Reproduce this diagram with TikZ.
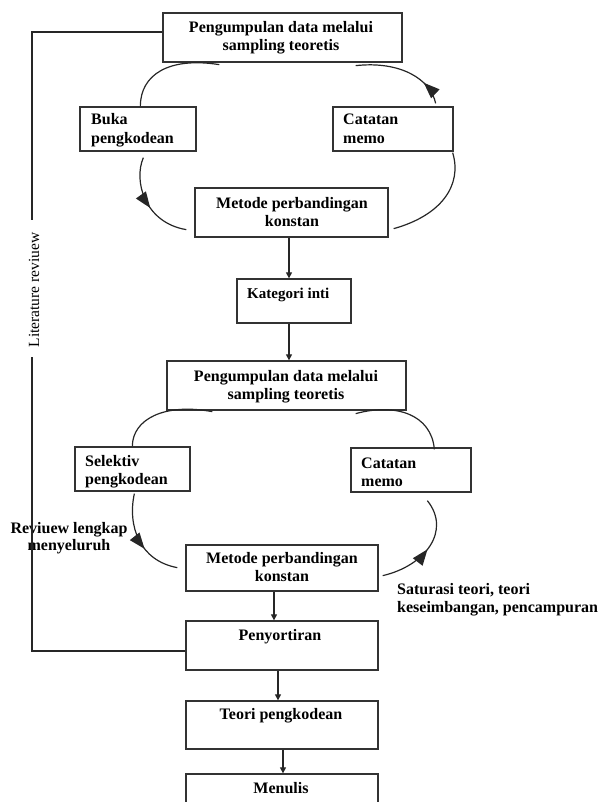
\documentclass[tikz,border=0pt]{standalone}
\usepackage{fontspec}
\setmainfont{Liberation Serif}
\usetikzlibrary{arrows.meta,decorations.markings}
\begin{document}
\begin{tikzpicture}[x=1pt,y=-1pt,
  box/.style={draw=black!80, line width=1.3pt, inner sep=0pt, rectangle},
  lbl/.style={inner sep=0pt, font=\fontsize{16}{17.5}\selectfont\bfseries},
  link/.style={draw=black!85, line width=1.2pt},
  tip/.style={link, -{Triangle[length=6pt,width=6pt]}},
  midarrow/.style={postaction={decorate}, decoration={markings,
      mark=at position #1 with {\arrow{Triangle[length=16pt,width=12pt]}}}},
]
\useasboundingbox (0,0) rectangle (598,802);

% ---- boxes ----
\node[box, minimum width=239pt, minimum height=49pt] (b1) at (282.5,37.5) {};
\node[box, minimum width=116pt, minimum height=44pt] (buka) at (138,129) {};
\node[box, minimum width=120pt, minimum height=44pt] (memo1) at (393,129) {};
\node[box, minimum width=193pt, minimum height=49pt] (m1) at (291.5,212.5) {};
\node[box, minimum width=114pt, minimum height=44pt] (kat) at (294,301) {};
\node[box, minimum width=239pt, minimum height=49pt] (b2) at (286.5,385.5) {};
\node[box, minimum width=115pt, minimum height=44pt] (sel) at (132.5,469) {};
\node[box, minimum width=120pt, minimum height=44pt] (memo2) at (411,470) {};
\node[box, minimum width=192pt, minimum height=46pt] (m2) at (282,568) {};
\node[box, minimum width=192pt, minimum height=49pt] (pen) at (282,645.5) {};
\node[box, minimum width=192pt, minimum height=48pt] (teori) at (282,725) {};
\node[box, minimum width=192pt, minimum height=49pt] (tulis) at (282,798.5) {};

% ---- box texts ----
\node[lbl, align=center, anchor=north] (b1t) at (281,21.5) {Pengumpulan data melalui\\sampling teoretis};
\node[lbl, align=left, anchor=north west, font=\fontsize{16}{19}\selectfont\bfseries] (bukat) at (91,113.5) {Buka\\pengkodean};
\node[lbl, align=left, anchor=north west, font=\fontsize{16}{19}\selectfont\bfseries] (memo1t) at (343,113.5) {Catatan\\memo};
\node[lbl, align=center, anchor=north] (m1t) at (292,197.5) {Metode perbandingan\\konstan};
\node[lbl, anchor=north west, font=\fontsize{15}{17}\selectfont\bfseries] (katt) at (247,288) {Kategori inti};
\node[lbl, align=center, anchor=north] (b2t) at (286,370.5) {Pengumpulan data melalui\\sampling teoretis};
\node[lbl, align=left, anchor=north west, font=\fontsize{16}{18}\selectfont\bfseries] (selt) at (85,455.5) {Selektiv\\pengkodean};
\node[lbl, align=left, anchor=north west, font=\fontsize{16}{18}\selectfont\bfseries] (memo2t) at (361,457.5) {Catatan\\memo};
\node[lbl, align=center, anchor=north] (m2t) at (282,552.5) {Metode perbandingan\\konstan};
\node[lbl, anchor=north] (pent) at (280,629.5) {Penyortiran};
\node[lbl, anchor=north] (teorit) at (281,708.5) {Teori pengkodean};
\node[lbl, anchor=north] (tulist) at (281,782.5) {Menulis};

% ---- side notes ----
\node[lbl, align=center, anchor=north, font=\fontsize{16}{16.5}\selectfont\bfseries] (rev) at (69,522.5) {Reviuew lengkap\\menyeluruh};
\node[lbl, align=left, anchor=north west] (sat) at (397,583.5) {Saturasi teori, teori\\keseimbangan, pencampuran};
\node[inner sep=0pt, rotate=90, font=\fontsize{15.5}{17}\selectfont] (lit) at (34,290) {Literature reviuew};

% ---- literature review line ----
\coordinate (litA) at (32,220);
\coordinate (litB) at (32,357);
\draw[link] ([yshift=5.5pt]b1.west) -| (litA);
\draw[link] (litB) |- ([yshift=-5.5pt]pen.west);

% ---- first cycle ----
\draw[link] ([xshift=57pt,yshift=-2pt]b1.south west) .. controls +(-50,-8) and +(0,-32) .. ([xshift=61pt]buka.north west);
\draw[link, midarrow=0.55] ([xshift=64pt,yshift=-6pt]buka.south west) .. controls +(-10,23) and +(-42,-7) .. ([xshift=-8pt,yshift=8pt]m1.south west);
\draw[link] ([xshift=5pt,yshift=9pt]m1.south east) .. controls +(47,-13) and +(10,33) .. ([xshift=-1pt,yshift=-1pt]memo1.south east);
\draw[link, midarrow=0.25] ([xshift=-18pt,yshift=3pt]memo1.north east) .. controls +(-5,-24) and +(45,-5) .. ([xshift=-47pt,yshift=-3pt]b1.south east);

% ---- main chain ----
\draw[tip] ([xshift=-2.5pt]m1.south) -- ([xshift=-2.5pt]m1.south |- kat.north);
\draw[tip] ([xshift=-5pt]kat.south) -- ([xshift=-5pt]kat.south |- b2.north);

% ---- second cycle ----
\draw[link] ([xshift=46pt,yshift=-1pt]b2.south west) .. controls +(-48,-9) and +(0,-27) .. ([xshift=58pt]sel.north west);
\draw[link, midarrow=0.6] ([xshift=60pt,yshift=-2pt]sel.south west) .. controls +(-7,32) and +(-38,-7) .. ([xshift=-8pt,yshift=24pt]m2.south west);
\draw[link, midarrow=0.5] ([xshift=4pt,yshift=16pt]m2.south east) .. controls +(43,-10) and +(24,30) .. ([xshift=77pt,yshift=-8pt]memo2.south west);
\draw[link] ([xshift=84pt,yshift=-2pt]memo2.north west) .. controls +(-3,-35) and +(40,-11) .. ([xshift=-51pt,yshift=-3pt]b2.south east);

% ---- final chain ----
\draw[tip] ([xshift=-8pt]m2.south) -- ([xshift=-8pt]m2.south |- pen.north);
\draw[tip] ([xshift=-4pt]pen.south) -- ([xshift=-4pt]pen.south |- teori.north);
\draw[tip] ([xshift=1pt]teori.south) -- ([xshift=1pt]teori.south |- tulis.north);
\end{tikzpicture}
\end{document}
